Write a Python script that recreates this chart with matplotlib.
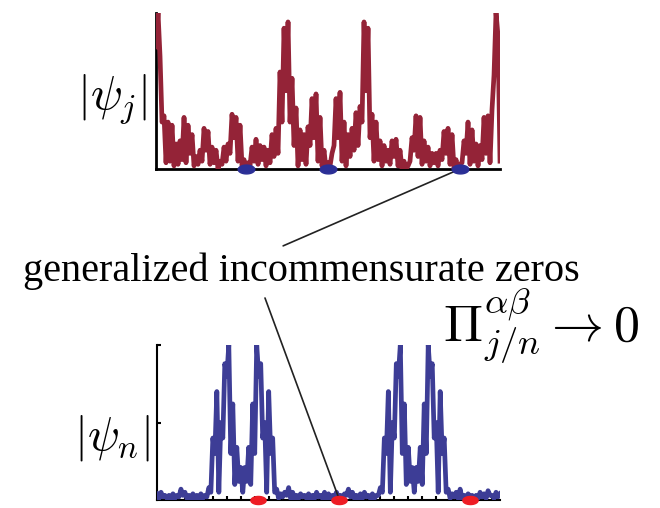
import matplotlib.pyplot as plt
import numpy as np

plt.rcParams['mathtext.fontset'] = 'cm'

# |psi_j| samples, alternating: peaks at even sites, dips at odd sites
top_peaks = [0.78, 0.72, 0.34, 0.30, 0.28, 0.16, 0.18, 0.33, 0.28, 0.22,
             0.08, 0.12, 0.26, 0.24, 0.14, 0.12, 0.05, 0.14, 0.16, 0.35,
             0.33, 0.28, 0.06, 0.04, 0.14, 0.19, 0.15, 0.14, 0.12, 0.22,
             0.26, 0.62, 0.90, 0.94, 0.58, 0.39, 0.25, 0.22, 0.27, 0.45,
             0.48, 0.33, 0.12, 0.04, 0.10, 0.45, 0.49, 0.30, 0.22, 0.26,
             0.36, 0.40, 0.94, 0.90, 0.35, 0.30, 0.18, 0.15, 0.12, 0.18,
             0.19, 0.12, 0.05, 0.02, 0.20, 0.34, 0.33, 0.18, 0.14, 0.10,
             0.10, 0.12, 0.24, 0.26, 0.22, 0.06, 0.03, 0.18, 0.30, 0.25,
             0.16, 0.15, 0.33, 0.34, 0.38, 1.00, 0.05]
top_dips = [1.00, 0.30, 0.04, 0.05, 0.02, 0.03, 0.06, 0.04, 0.10, 0.02,
            0.03, 0.05, 0.12, 0.03, 0.04, 0.00, 0.03, 0.05, 0.10, 0.20,
            0.05, 0.02, 0.00, 0.02, 0.05, 0.03, 0.06, 0.02, 0.04, 0.08,
            0.10, 0.30, 0.50, 0.30, 0.15, 0.02, 0.06, 0.03, 0.15, 0.20,
            0.05, 0.02, 0.00, 0.02, 0.15, 0.20, 0.05, 0.02, 0.08, 0.12,
            0.15, 0.30, 0.50, 0.20, 0.05, 0.06, 0.02, 0.05, 0.03, 0.08,
            0.02, 0.00, 0.00, 0.05, 0.12, 0.08, 0.03, 0.05, 0.02, 0.04,
            0.02, 0.06, 0.10, 0.03, 0.00, 0.00, 0.04, 0.10, 0.03, 0.05,
            0.02, 0.06, 0.10, 0.04, 0.60, 0.85]

# |psi_n| samples, same layout
bottom_peaks = [0.04, 0.05, 0.03, 0.03, 0.04, 0.03, 0.07, 0.05, 0.03, 0.04,
                0.03, 0.04, 0.03, 0.08, 0.40, 0.70, 0.50, 0.88, 1.00, 0.62,
                0.34, 0.21, 0.21, 0.34, 0.62, 1.00, 0.88, 0.50, 0.70, 0.40,
                0.07, 0.04, 0.05, 0.08, 0.05, 0.03, 0.04, 0.03, 0.04, 0.03,
                0.05, 0.03, 0.05, 0.04, 0.03, 0.05, 0.03, 0.04, 0.07, 0.05,
                0.03, 0.04, 0.05, 0.03, 0.04, 0.03, 0.08, 0.40, 0.70, 0.50,
                0.88, 1.00, 0.62, 0.34, 0.21, 0.21, 0.34, 0.62, 1.00, 0.88,
                0.50, 0.70, 0.40, 0.07, 0.04, 0.05, 0.07, 0.03, 0.04, 0.03,
                0.03, 0.05, 0.04, 0.06, 0.03, 0.05, 0.04]
bottom_dips = [0.01, 0.02, 0.01, 0.01, 0.01, 0.02, 0.03, 0.01, 0.01, 0.01,
               0.01, 0.01, 0.02, 0.05, 0.30, 0.05, 0.40, 0.80, 0.30, 0.10,
               0.12, 0.05, 0.12, 0.10, 0.30, 0.80, 0.40, 0.05, 0.30, 0.05,
               0.01, 0.02, 0.03, 0.01, 0.01, 0.01, 0.02, 0.01, 0.01, 0.01,
               0.02, 0.01, 0.01, 0.01, 0.02, 0.01, 0.01, 0.03, 0.02, 0.01,
               0.01, 0.01, 0.02, 0.01, 0.01, 0.03, 0.05, 0.30, 0.05, 0.40,
               0.80, 0.30, 0.10, 0.12, 0.05, 0.12, 0.10, 0.30, 0.80, 0.40,
               0.05, 0.30, 0.05, 0.01, 0.02, 0.01, 0.01, 0.01, 0.02, 0.01,
               0.01, 0.02, 0.01, 0.03, 0.01, 0.02]

# sites of the zeros
top_zeros = [45, 86, 152]
bottom_zeros = [50.5, 91.5, 157]

label_text = 'generalized incommensurate zeros'
pi_text = r'$\Pi^{\alpha\beta}_{j/n} \rightarrow 0$'

red = '#942337'
blue = '#3d3d96'


def interleave(peaks, dips):
    out = []
    for i in range(len(peaks)):
        out.append(peaks[i])
        if i < len(dips):
            out.append(dips[i])
    return np.array(out)


def ellipse_marker():
    t = np.linspace(0, 2 * np.pi, 40)
    return np.column_stack([np.cos(t), 0.53 * np.sin(t)])


def main():
    fig = plt.figure(figsize=(6.6, 5.08), dpi=100)

    top = interleave(top_peaks, top_dips)
    bot = interleave(bottom_peaks, bottom_dips)

    ax1 = fig.add_axes([0.2364, 0.6673, 0.5212, 0.308])
    ax1.plot(np.arange(len(top)), top, color=red, lw=3.4, zorder=3)
    ax1.plot(top_zeros, np.zeros(len(top_zeros)), ls='none',
             marker=ellipse_marker(), ms=12, color='#2b2f96', zorder=4, clip_on=False)
    ax1.set_xlim(0, len(top) - 1)
    ax1.set_ylim(0, 1)
    ax1.spines[['top', 'right']].set_visible(False)
    ax1.spines[['left', 'bottom']].set_linewidth(2)
    ax1.set_xticks([])
    ax1.set_yticks([])
    ax1.patch.set_alpha(0)

    ax2 = fig.add_axes([0.2379, 0.01575, 0.5197, 0.305])
    ax2.plot(np.arange(len(bot)), bot, color=blue, lw=3.4, zorder=3)
    ax2.plot(bottom_zeros, np.zeros(len(bottom_zeros)), ls='none',
             marker=ellipse_marker(), ms=11, color='#ee1c24', zorder=4, clip_on=False)
    ax2.set_xlim(0, len(bot) - 1)
    ax2.set_ylim(0, 1)
    ax2.spines[['top', 'right']].set_visible(False)
    ax2.spines[['left', 'bottom']].set_linewidth(1.5)
    ax2.set_xticks(np.arange(7, len(bot), 7))
    ax2.set_yticks([0.5, 1.0])
    ax2.tick_params(direction='in', length=3, width=1.5, labelbottom=False, labelleft=False)
    ax2.patch.set_alpha(0)

    fig.text(0.170, 0.803, r'$|\psi_j|$', fontsize=34, ha='center', va='center')
    fig.text(0.170, 0.138, r'$|\psi_n|$', fontsize=34, ha='center', va='center')
    fig.text(0.035, 0.447, label_text, fontsize=29, family='Liberation Serif', va='baseline')
    fig.text(0.671, 0.328, pi_text, fontsize=37.5, va='baseline')

    # lines from the label to one zero in each panel
    ax1.annotate('', xy=(top_zeros[2], 0), xycoords='data',
                 xytext=(0.429, 0.516), textcoords='figure fraction',
                 arrowprops=dict(arrowstyle='-', color='#222222', lw=1.2, shrinkA=0, shrinkB=5),
                 annotation_clip=False)
    ax2.annotate('', xy=(bottom_zeros[1], 0), xycoords='data',
                 xytext=(0.4015, 0.4134), textcoords='figure fraction',
                 arrowprops=dict(arrowstyle='-', color='#222222', lw=1.2, shrinkA=0, shrinkB=3),
                 annotation_clip=False)

    fig.savefig('out.png', dpi=100)


main()
